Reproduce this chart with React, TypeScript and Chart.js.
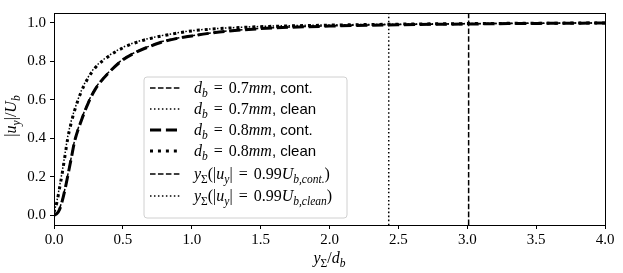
import React, { useEffect, useRef } from "react";
import { Chart, registerables } from "chart.js";

Chart.register(...registerables);

// ---------------- data ----------------
const X_GRID = [0, 0.02, 0.04, 0.06, 0.08, 0.1, 0.125, 0.15, 0.2, 0.25, 0.3, 0.4, 0.5, 0.6, 0.7, 0.8, 1.0, 1.2, 1.5, 2.0, 2.5, 3.0, 3.5, 4.0];
const CONT_07 = [0.0, 0.01, 0.035, 0.08, 0.14, 0.21, 0.3, 0.39, 0.5, 0.59, 0.66, 0.745, 0.81, 0.85, 0.88, 0.905, 0.932, 0.952, 0.97, 0.983, 0.99, 0.994, 0.997, 0.998];
const CLEAN_07 = [0.02, 0.07, 0.15, 0.23, 0.32, 0.41, 0.49, 0.55, 0.65, 0.72, 0.77, 0.83, 0.872, 0.9, 0.92, 0.935, 0.958, 0.97, 0.98, 0.988, 0.992, 0.995, 0.997, 0.998];
const CONT_08 = [0.0, 0.008, 0.03, 0.075, 0.135, 0.205, 0.295, 0.385, 0.495, 0.585, 0.655, 0.742, 0.807, 0.848, 0.878, 0.903, 0.931, 0.951, 0.969, 0.982, 0.989, 0.993, 0.996, 0.998];
const CLEAN_08 = [0.015, 0.065, 0.14, 0.22, 0.31, 0.4, 0.48, 0.545, 0.645, 0.715, 0.766, 0.827, 0.869, 0.898, 0.918, 0.933, 0.957, 0.969, 0.979, 0.987, 0.992, 0.995, 0.997, 0.998];
const VLINE_CONT = 3.01;
const VLINE_CLEAN = 2.43;
const X_TICKS = [0, 0.5, 1.0, 1.5, 2.0, 2.5, 3.0, 3.5, 4.0];
const Y_TICKS = [0, 0.2, 0.4, 0.6, 0.8, 1.0];
const X_MIN = 0;
const X_MAX = 4;
const Y_MIN = -0.05;
const Y_MAX = 1.05;

// ---------------- styles ----------------
const SERIF = "'Liberation Serif', 'DejaVu Serif', serif";
const SANS = "'Liberation Sans', 'DejaVu Sans', sans-serif";
const FS = 16;

type Seg = [string, string];
const FONTS: Record<string, string> = {
  r: `${FS}px ${SERIF}`,
  eq: `${FS}px ${SERIF}`,
  i: `italic ${FS}px ${SERIF}`,
  s: `15px ${SANS}`,
  si: `italic 11.5px ${SERIF}`,
  sr: `11.5px ${SERIF}`,
};
const DY: Record<string, number> = { r: 0, eq: 0, i: 0, s: 0, si: 3.5, sr: 3.5 };
const PAD: Record<string, number> = { eq: 2 };

const STY_THIN_DASH = { borderWidth: 1.5, borderDash: [5.55, 2.4] };
const STY_THIN_DOT = { borderWidth: 1.5, borderDash: [1.5, 2.475] };
const STY_THICK_DASH = { borderWidth: 3, borderDash: [11.1, 4.8] };
const STY_THICK_DOT = { borderWidth: 3, borderDash: [3, 4.95] };

const LEGEND: { segs: Seg[]; sty: { borderWidth: number; borderDash: number[] } }[] = [
  { segs: [["d", "i"], ["b", "si"], [" = ", "eq"], ["0.7", "r"], ["mm", "i"], [", cont.", "s"]], sty: STY_THIN_DASH },
  { segs: [["d", "i"], ["b", "si"], [" = ", "eq"], ["0.7", "r"], ["mm", "i"], [", clean", "s"]], sty: STY_THIN_DOT },
  { segs: [["d", "i"], ["b", "si"], [" = ", "eq"], ["0.8", "r"], ["mm", "i"], [", cont.", "s"]], sty: STY_THICK_DASH },
  { segs: [["d", "i"], ["b", "si"], [" = ", "eq"], ["0.8", "r"], ["mm", "i"], [", clean", "s"]], sty: STY_THICK_DOT },
  { segs: [["y", "i"], ["Σ", "sr"], ["(|", "r"], ["u", "i"], ["y", "si"], ["|", "r"], [" = ", "eq"], ["0.99", "r"], ["U", "i"], ["b,cont.", "si"], [")", "r"]], sty: STY_THIN_DASH },
  { segs: [["y", "i"], ["Σ", "sr"], ["(|", "r"], ["u", "i"], ["y", "si"], ["|", "r"], [" = ", "eq"], ["0.99", "r"], ["U", "i"], ["b,clean", "si"], [")", "r"]], sty: STY_THIN_DOT },
];
const LEGEND_ROWS = [88, 109, 130, 151, 174, 196];

const Y_TITLE: Seg[] = [["|", "r"], ["u", "i"], ["y", "si"], ["|/", "r"], ["U", "i"], ["b", "si"]];
const X_TITLE: Seg[] = [["y", "i"], ["Σ", "sr"], ["/", "r"], ["d", "i"], ["b", "si"]];

function richWidth(ctx: CanvasRenderingContext2D, segs: Seg[]) {
  let w = 0;
  for (const [t, f] of segs) {
    ctx.font = FONTS[f];
    w += ctx.measureText(t).width + 2 * (PAD[f] || 0);
  }
  return w;
}
function drawRich(ctx: CanvasRenderingContext2D, segs: Seg[], x: number, y: number) {
  ctx.textBaseline = "alphabetic";
  ctx.textAlign = "left";
  let cx = x;
  for (const [t, f] of segs) {
    ctx.font = FONTS[f];
    const p = PAD[f] || 0;
    ctx.fillText(t, cx + p, y + DY[f]);
    cx += ctx.measureText(t).width + 2 * p;
  }
}

const pts = (ys: number[]) => X_GRID.map((x, i) => ({ x, y: ys[i] }));
const vline = (x: number) => [{ x, y: Y_MIN }, { x, y: Y_MAX }];

const decor = {
  id: "decor",
  afterDatasetsDraw(chart: any) {
    const ctx: CanvasRenderingContext2D = chart.ctx;
    const a = chart.chartArea;
    ctx.save();
    // spines
    ctx.strokeStyle = "#000";
    ctx.lineWidth = 1;
    ctx.setLineDash([]);
    ctx.strokeRect(Math.round(a.left) + 0.5, Math.round(a.top) + 0.5, Math.round(a.right - a.left), Math.round(a.bottom - a.top));
    // legend
    const bx = 144, by = 77, bw = 203, bh = 141, r = 3;
    ctx.beginPath();
    ctx.moveTo(bx + r, by);
    ctx.arcTo(bx + bw, by, bx + bw, by + bh, r);
    ctx.arcTo(bx + bw, by + bh, bx, by + bh, r);
    ctx.arcTo(bx, by + bh, bx, by, r);
    ctx.arcTo(bx, by, bx + bw, by, r);
    ctx.closePath();
    ctx.fillStyle = "rgba(255,255,255,0.8)";
    ctx.fill();
    ctx.strokeStyle = "#d0d0d0";
    ctx.lineWidth = 1;
    ctx.stroke();
    ctx.fillStyle = "#000";
    LEGEND.forEach((e, i) => {
      const yc = LEGEND_ROWS[i];
      ctx.beginPath();
      ctx.strokeStyle = "#000";
      ctx.lineWidth = e.sty.borderWidth;
      ctx.setLineDash(e.sty.borderDash);
      ctx.moveTo(150, yc);
      ctx.lineTo(181, yc);
      ctx.stroke();
      ctx.setLineDash([]);
      drawRich(ctx, e.segs, 194, yc + 5);
    });
    // axis titles
    const xw = richWidth(ctx, X_TITLE);
    drawRich(ctx, X_TITLE, (a.left + a.right) / 2 - xw / 2, 263);
    const yw = richWidth(ctx, Y_TITLE);
    ctx.translate(16, 116);
    ctx.rotate(-Math.PI / 2);
    drawRich(ctx, Y_TITLE, -yw / 2, 0);
    ctx.restore();
  },
};

export default function App() {
  const ref = useRef<HTMLCanvasElement>(null);
  useEffect(() => {
    document.body.style.margin = "0";
    const line = (data: any, sty: any) => ({
      data,
      borderColor: "#000",
      backgroundColor: "#000",
      borderWidth: sty.borderWidth,
      borderDash: sty.borderDash,
      pointRadius: 0,
      showLine: true,
      fill: false,
      cubicInterpolationMode: "monotone",
    });
    const chart = new Chart(ref.current!, {
      type: "scatter",
      data: {
        datasets: [
          line(pts(CONT_07), STY_THIN_DASH),
          line(pts(CLEAN_07), STY_THIN_DOT),
          line(pts(CONT_08), STY_THICK_DASH),
          line(pts(CLEAN_08), STY_THICK_DOT),
          line(vline(VLINE_CONT), STY_THIN_DASH),
          line(vline(VLINE_CLEAN), STY_THIN_DOT),
        ],
      },
      options: {
        animation: false,
        responsive: false,
        events: [],
        layout: { padding: { left: 0, top: 10, right: 18, bottom: 0 } },
        plugins: { legend: { display: false }, tooltip: { enabled: false } },
        scales: {
          x: {
            type: "linear",
            min: X_MIN,
            max: X_MAX,
            afterBuildTicks: (s: any) => { s.ticks = X_TICKS.map((v) => ({ value: v })); },
            afterFit: (s: any) => { s.height = 48; },
            grid: { drawOnChartArea: false, drawTicks: true, tickLength: 4, color: "#000", lineWidth: 1 },
            border: { display: false },
            ticks: {
              color: "#000",
              padding: 2,
              maxRotation: 0,
              autoSkip: false,
              font: { family: SERIF, size: 15 },
              callback: (v: any) => Number(v).toFixed(1),
            },
          },
          y: {
            type: "linear",
            min: Y_MIN,
            max: Y_MAX,
            afterBuildTicks: (s: any) => { s.ticks = Y_TICKS.map((v) => ({ value: v })); },
            afterFit: (s: any) => { s.width = 54; },
            grid: { drawOnChartArea: false, drawTicks: true, tickLength: 4, color: "#000", lineWidth: 1 },
            border: { display: false },
            ticks: {
              color: "#000",
              padding: 4,
              autoSkip: false,
              font: { family: SERIF, size: 15 },
              callback: (v: any) => Number(v).toFixed(1),
            },
          },
        },
      },
      plugins: [decor],
    });
    return () => chart.destroy();
  }, []);
  return (
    <div style={{ width: 623, height: 273 }}>
      <canvas ref={ref} width={623} height={273} style={{ display: "block" }} />
    </div>
  );
}
